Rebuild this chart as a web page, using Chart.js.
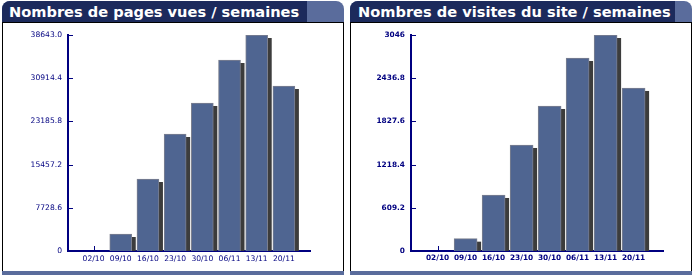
<!DOCTYPE html>
<html>
<head>
<meta charset="utf-8">
<script src="https://cdn.jsdelivr.net/npm/chart.js@4.4.0/dist/chart.umd.min.js"></script>
<style>
    body { margin: 0; width: 693px; height: 275px; background: #fff; position: relative; overflow: hidden; }
    .panel { position: absolute; top: 1px; width: 342px; height: 273px; }
    .head { height: 21px; border-radius: 8px 8px 0 0; background: #5a6c9c; overflow: hidden; display: flex; }
    .head span { display: block; background: #1c2a5c; color: #fff; font: bold 14.6px 'DejaVu Sans'; line-height: 21px; padding-left: 7px; white-space: nowrap; }
    .body { position: absolute; top: 21px; left: 0; width: 340px; height: 248px; border: 1px solid #000; border-bottom: none; background: #fff; }
    .strip { position: absolute; top: 270px; left: 0; width: 342px; height: 4px; background: #5a6c9c; }
    canvas { position: absolute; top: 1px; left: 0; }
</style>
</head>
<body>
<div class="panel" style="left:2px">
    <div class="head"><span style="width:298px">Nombres de pages vues / semaines</span></div>
    <div class="body"><canvas id="pages-chart" width="340" height="246"></canvas></div>
    <div class="strip"></div>
</div>
<div class="panel" style="left:350px">
    <div class="head"><span style="width:317px;padding-left:8px">Nombres de visites du site / semaines</span></div>
    <div class="body"><canvas id="visits-chart" width="340" height="246"></canvas></div>
    <div class="strip"></div>
</div>
<script>
const weeks = ['02/10', '09/10', '16/10', '23/10', '30/10', '06/11', '13/11', '20/11'];

const pageViews = [0, 3040, 12880, 20930, 26480, 34170, 38643, 29520];
const pageTicks = [0, 7728.6, 15457.2, 23185.8, 30914.4, 38643.0];
const pageTickLabels = ['0', '7728.6', '15457.2', '23185.8', '30914.4', '38643.0'];

const visits = [0, 174, 790, 1495, 2045, 2722, 3046, 2299];
const visitTicks = [0, 609.2, 1218.4, 1827.6, 2436.8, 3046];
const visitTickLabels = ['0', '609.2', '1218.4', '1827.6', '2436.8', '3046'];

const navy = '#000080';

// small ticks pointing into the plot, and the drop shadow behind each bar
const barDecor = {
    id: 'barDecor',
    beforeDatasetsDraw(chart) {
        const ctx = chart.ctx;
        const area = chart.chartArea;
        const x = chart.scales.x;
        const y = chart.scales.y;
        ctx.save();
        ctx.strokeStyle = navy;
        ctx.lineWidth = 1;
        ctx.beginPath();
        y.ticks.forEach((t) => {
            const py = Math.round(y.getPixelForValue(t.value)) + 0.5;
            ctx.moveTo(area.left, py);
            ctx.lineTo(area.left + 5, py);
        });
        x.ticks.forEach((t) => {
            const px = Math.round(x.getPixelForValue(t.value)) + 0.5;
            ctx.moveTo(px, area.bottom);
            ctx.lineTo(px, area.bottom - 5);
        });
        ctx.stroke();

        ctx.beginPath();
        ctx.rect(area.left, area.top, area.right - area.left, area.bottom - area.top);
        ctx.clip();
        ctx.fillStyle = '#3c3c3c';
        chart.getDatasetMeta(0).data.forEach((bar) => {
            if (bar.base - bar.y < 1) return;
            ctx.fillRect(bar.x - bar.width / 2 + 4, bar.y + 3, bar.width, bar.base - bar.y);
        });
        ctx.restore();
    }
};

function makeChart(id, values, ticks, tickLabels, opts) {
    const el = document.getElementById(id);
    // eslint-disable-next-line no-undef
    return new Chart(el, {
        type: 'bar',
        data: {
            datasets: [{
                data: values.map((v, i) => ({ x: i, y: v })),
                backgroundColor: '#4f6591',
                borderColor: '#7d8190',
                borderWidth: 1,
                barThickness: opts.barWidth
            }]
        },
        options: {
            responsive: false,
            animation: false,
            events: [],
            layout: { padding: { left: 0, top: 11, right: opts.padRight, bottom: 0 } },
            plugins: { legend: { display: false }, tooltip: { enabled: false } },
            scales: {
                x: {
                    type: 'linear',
                    offset: false,
                    min: opts.xMin,
                    max: opts.xMax,
                    z: 1,
                    afterBuildTicks: (s) => { s.ticks = weeks.map((w, i) => ({ value: i })); },
                    afterFit: (s) => { s.height = 19; },
                    grid: { display: false, drawTicks: false },
                    border: { color: navy, width: 2 },
                    ticks: {
                        color: navy,
                        font: opts.font,
                        padding: 3,
                        autoSkip: false,
                        maxRotation: 0,
                        callback: (v, i) => weeks[i]
                    }
                },
                y: {
                    min: 0,
                    max: ticks[ticks.length - 1],
                    z: 1,
                    afterBuildTicks: (s) => { s.ticks = ticks.map((v) => ({ value: v })); },
                    afterFit: (s) => { s.width = opts.axisLeft; },
                    grid: { display: false, drawTicks: false },
                    border: { color: navy, width: 2 },
                    ticks: {
                        color: navy,
                        font: opts.font,
                        padding: 6,
                        callback: (v, i) => tickLabels[i]
                    }
                }
            }
        },
        plugins: [barDecor]
    });
}

makeChart('pages-chart', pageViews, pageTicks, pageTickLabels, {
    axisLeft: 65, padRight: 33, xMin: -0.94, xMax: 7.96, barWidth: 22,
    font: { family: 'DejaVu Sans', size: 7.6 }
});
makeChart('visits-chart', visits, visitTicks, visitTickLabels, {
    axisLeft: 60, padRight: 28, xMin: -0.95, xMax: 8.05, barWidth: 23,
    font: { family: 'DejaVu Sans', size: 7.4, weight: 'bold' }
});
</script>
</body>
</html>
